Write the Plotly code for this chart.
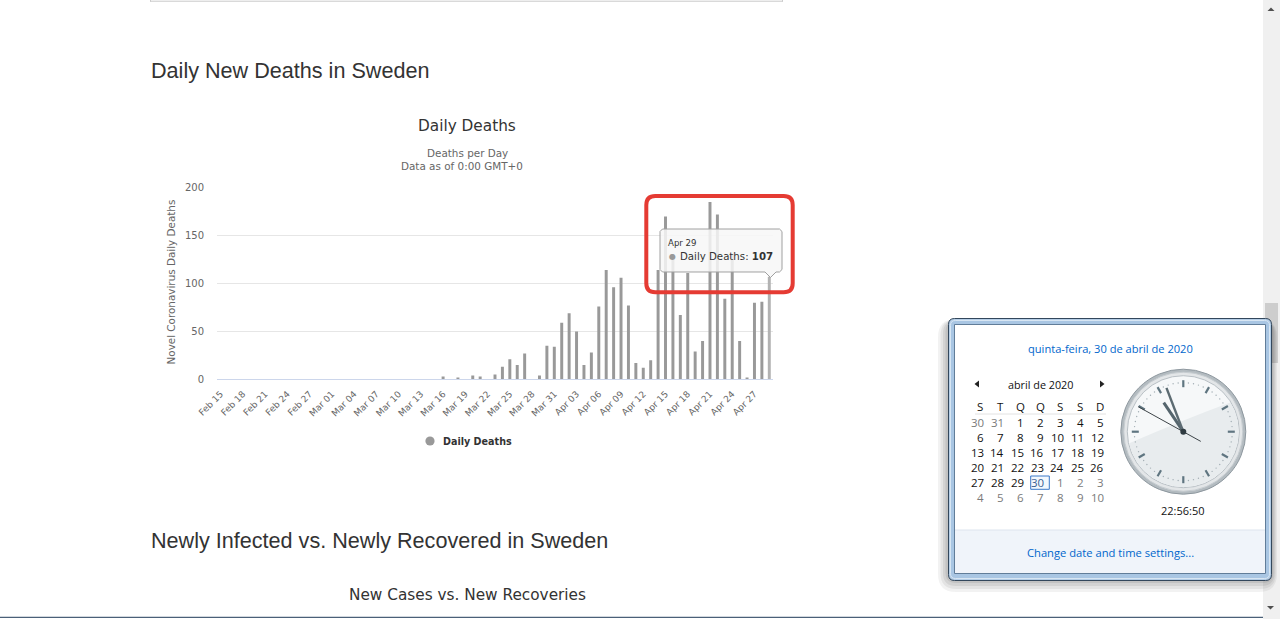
import math
import pandas as pd
import plotly.graph_objects as go

# ---------------- data ----------------
dates = [d.strftime("%b %d") for d in pd.date_range("2020-02-15", "2020-04-29", freq="D")]
daily_deaths = [
    0, 0, 0, 0, 0, 0, 0, 0, 0, 0,          # Feb 15 - Feb 24
    0, 0, 0, 0, 0, 0, 0, 0, 0, 0,          # Feb 25 - Mar 05
    0, 0, 0, 0, 0, 0, 0, 0, 0, 0,          # Mar 06 - Mar 15
    3, 0, 2, 0, 4, 3, 0, 5, 13, 21,        # Mar 16 - Mar 25
    15, 27, 0, 4, 35, 34,                  # Mar 26 - Mar 31
    59, 69, 50, 15, 28, 76, 114, 96, 106, 77,   # Apr 01 - Apr 10
    17, 12, 20, 114, 170, 130, 67, 111, 29, 40, # Apr 11 - Apr 20
    185, 172, 84, 131, 40, 2, 80, 81, 107       # Apr 21 - Apr 29
]
tick_labels = dates[::3]
y_ticks = [0, 50, 100, 150, 200]
hover_index = len(dates) - 1

# ---------------- helpers (pixel -> paper) ----------------
W, H = 1280, 619
def px(x): return x / W
def py(y): return 1 - y / H

def P(x, y): return f"{px(x):.6f},{py(y):.6f}"

def poly(points, closed=True):
    s = "M " + " L ".join(P(x, y) for x, y in points)
    return s + (" Z" if closed else "")

def rrect(x0, y0, x1, y1, r):
    return (f"M {P(x0 + r, y0)} L {P(x1 - r, y0)} Q {P(x1, y0)} {P(x1, y0 + r)} "
            f"L {P(x1, y1 - r)} Q {P(x1, y1)} {P(x1 - r, y1)} "
            f"L {P(x0 + r, y1)} Q {P(x0, y1)} {P(x0, y1 - r)} "
            f"L {P(x0, y0 + r)} Q {P(x0, y0)} {P(x0 + r, y0)} Z")

shapes = []
annots = []

def add_path(path, fill=None, color=None, width=0):
    d = dict(type="path", xref="paper", yref="paper", path=path,
             line=dict(color=color or "rgba(0,0,0,0)", width=width))
    if fill:
        d["fillcolor"] = fill
    shapes.append(d)

def add_rect(x0, y0, x1, y1, fill=None, color=None, width=0):
    d = dict(type="rect", xref="paper", yref="paper", x0=px(x0), x1=px(x1),
             y0=py(y1), y1=py(y0), line=dict(color=color or "rgba(0,0,0,0)", width=width))
    if fill:
        d["fillcolor"] = fill
    shapes.append(d)

def add_line(x0, y0, x1, y1, color, width=1):
    shapes.append(dict(type="line", xref="paper", yref="paper", x0=px(x0), y0=py(y0),
                       x1=px(x1), y1=py(y1), line=dict(color=color, width=width)))

def add_circle(cx, cy, r, fill=None, color=None, width=0):
    d = dict(type="circle", xref="paper", yref="paper", x0=px(cx - r), x1=px(cx + r),
             y0=py(cy + r), y1=py(cy - r), line=dict(color=color or "rgba(0,0,0,0)", width=width))
    if fill:
        d["fillcolor"] = fill
    shapes.append(d)

def text(x, y, s, size, color, family="DejaVu Sans", xanchor="center", yanchor="middle", angle=0):
    annots.append(dict(xref="paper", yref="paper", x=px(x), y=py(y), text=s, showarrow=False,
                       xanchor=xanchor, yanchor=yanchor, textangle=angle,
                       font=dict(size=size, color=color, family=family)))

# ---------------- chart ----------------
bar_colors = ["#999999"] * len(dates)
bar_colors[hover_index] = "#b2b2b2"

fig = go.Figure(go.Bar(x=dates, y=daily_deaths, marker=dict(color=bar_colors, line=dict(width=0)),
                       name="Daily Deaths", showlegend=False))

fig.update_layout(
    width=W, height=H, autosize=False,
    margin=dict(l=0, r=0, t=0, b=0, pad=0),
    paper_bgcolor="white", plot_bgcolor="white",
    bargap=0.6, showlegend=False,
    xaxis=dict(domain=[px(217), px(773)], type="category", range=[-0.5, len(dates) - 0.5],
               tickmode="array", tickvals=tick_labels, ticktext=tick_labels, tickangle=-45,
               tickfont=dict(family="DejaVu Sans", size=9, color="#666666"),
               showline=True, linecolor="#ccd6eb", linewidth=1, showgrid=False,
               ticks="outside", ticklen=5, tickcolor="rgba(0,0,0,0)", fixedrange=True,
               automargin=False),
    yaxis=dict(domain=[py(379.3), py(187.7)], range=[0, 200], tickvals=y_ticks,
               tickfont=dict(family="DejaVu Sans", size=10, color="#666666"),
               gridcolor="#e6e6e6", gridwidth=1, zeroline=False, showline=False,
               ticks="outside", ticklen=10, tickcolor="rgba(0,0,0,0)", fixedrange=True,
               automargin=False),
)

# top box remains
add_line(150.5, 0, 150.5, 1.5, "#cccccc", 1)
add_line(782.5, 0, 782.5, 1.5, "#cccccc", 1)
add_line(150, 1.2, 783, 1.2, "#c8c8c8", 1)

# headings
text(149, 71, "Daily New Deaths in Sweden", 21.6, "#333333", family="Liberation Sans", xanchor="left")
text(149, 540, "Newly Infected vs. Newly Recovered in Sweden", 21.6, "#333333", family="Liberation Sans", xanchor="left")
text(467, 595, "New Cases vs. New Recoveries", 15.3, "#333333")

# chart titles
text(467, 126, "Daily Deaths", 15.3, "#333333")
text(467, 153, "Deaths per Day", 10.4, "#666666")
text(462, 166, "Data as of 0:00 GMT+0", 10.4, "#666666")
text(170, 282.5, "Novel Coronavirus Daily Deaths", 10.4, "#666666", angle=-90)

# legend
add_circle(430, 441, 4.6, fill="#999999")
text(441, 441.5, "<b>Daily Deaths</b>", 9.6, "#333333", xanchor="left")

# tooltip
tt = [(662.5, 229), (779.5, 229), (782, 231.5), (782, 269.5), (779.5, 272), (776, 272),
      (770.5, 277.5), (765, 272), (662.5, 272), (660, 269.5), (660, 231.5)]
add_path(poly(tt), fill="rgba(247,247,247,0.85)", color="#a0a0a0", width=1)
text(666, 243, "Apr 29", 8.6, "#333333", xanchor="left")
text(667, 256.5, "●", 8, "#999999", xanchor="left")
text(678, 256, "Daily Deaths: <b>107</b>", 10.2, "#333333", xanchor="left")

# red highlight
add_path(rrect(646.3, 196, 792.7, 292.3, 9), color="#e53b33", width=4)

# ---------------- page scrollbar ----------------
add_rect(1263, 0, 1280, 619, fill="#f0f0f0")
add_rect(1265, 303, 1278, 363, fill="#cdcdcd")
add_path(poly([(1267.5, 11), (1274.5, 11), (1271, 7.5)]), fill="#505050")
add_path(poly([(1267, 606), (1274, 606), (1270.5, 609.5)]), fill="#505050")
add_line(0, 617.3, 1263, 617.3, "#4a6078", 1.3)

# ---------------- calendar popup ----------------
for i, a in enumerate([0.05, 0.06, 0.07, 0.08]):
    g = 10 - 2.5 * i
    add_path(rrect(948 - g, 322 - g * 0.3, 1272 + g * 0.5, 580 + g * 1.2, 8 + g), fill=f"rgba(0,0,0,{a})")
add_path(rrect(948.5, 318.5, 1271.5, 580.5, 6), fill="#b4cde6", color="#33475c", width=1)
add_path(rrect(950.5, 320.5, 1269.5, 578.5, 5), fill="#a9c6e3", color="#d8e6f3", width=1)
add_rect(954.5, 324.5, 1265.5, 573.5, fill="white", color="#617d99", width=1)
add_rect(955, 530, 1265, 573, fill="#f0f4fa")
add_line(955, 530, 1265, 530, "#dde4ee", 1)

link = "#0066cc"
ui = "Open Sans"
text(1110, 348, "quinta-feira, 30 de abril de 2020", 11.1, link, family=ui)
text(1040, 384, "abril de 2020", 10.8, "#111111", family=ui)
add_path(poly([(974.5, 384), (979, 380.5), (979, 387.5)]), fill="#222222")
add_path(poly([(1104.5, 384), (1100, 380.5), (1100, 387.5)]), fill="#222222")

week = ["S", "T", "Q", "Q", "S", "S", "D"]
for i, d in enumerate(week):
    text(980 + 20 * i, 406, d, 11.5, "#111111", family=ui)
add_line(975, 414, 1106, 414, "#e2e2e2", 1)

cal_rows = [
    [("30", 0), ("31", 0), ("1", 1), ("2", 1), ("3", 1), ("4", 1), ("5", 1)],
    [("6", 1), ("7", 1), ("8", 1), ("9", 1), ("10", 1), ("11", 1), ("12", 1)],
    [("13", 1), ("14", 1), ("15", 1), ("16", 1), ("17", 1), ("18", 1), ("19", 1)],
    [("20", 1), ("21", 1), ("22", 1), ("23", 1), ("24", 1), ("25", 1), ("26", 1)],
    [("27", 1), ("28", 1), ("29", 1), ("30", 2), ("1", 0), ("2", 0), ("3", 0)],
    [("4", 0), ("5", 0), ("6", 0), ("7", 0), ("8", 0), ("9", 0), ("10", 0)],
]
add_rect(1030.7, 476, 1049.3, 489.3, fill="#f3f8fd", color="#3a78c9", width=1)
for j, row in enumerate(cal_rows):
    for i, (s, kind) in enumerate(row):
        col = {0: "#7a7a7a", 1: "#111111", 2: "#3a5f92"}[kind]
        text(986 + 20 * i, 422.5 + 15 * j, s, 11.5, col, family=ui, xanchor="right")

# clock
cx, cy = 1183.3, 431.7
add_circle(cx, cy, 62.5, fill="#b3bbc0", color="#8e989f", width=1)
add_circle(cx, cy, 59.5, fill="#e3e6e8", color="#c7cdd1", width=1)
add_circle(cx, cy, 56, fill="#f6f8f9", color="#b9c0c5", width=1)
# gloss (lower-right, slightly darker)
r = 55.3
pts = []
for k in range(0, 41):
    phi = math.radians(192 + k * (200 / 40.0))
    pts.append((cx + r * math.cos(phi), cy - r * math.sin(phi)))
gl = "M " + " L ".join(P(x, y) for x, y in pts)
x0g, y0g = pts[0]
gl += f" Q {P(cx, cy - 12)} {P(x0g, y0g)} Z"
add_path(gl, fill="#e8ecee")
# minute dots and hour ticks
for m in range(60):
    th = math.radians(m * 6)
    if m % 5 == 0:
        add_line(cx + 44.5 * math.sin(th), cy - 44.5 * math.cos(th),
                 cx + 51.5 * math.sin(th), cy - 51.5 * math.cos(th), "#5f7580", 2.2)
    else:
        add_circle(cx + 49 * math.sin(th), cy - 49 * math.cos(th), 0.7, fill="#a3aeb4")
# hands
def hand(angle_deg, length, tail, color, width):
    th = math.radians(angle_deg)
    add_line(cx - tail * math.sin(th), cy + tail * math.cos(th),
             cx + length * math.sin(th), cy - length * math.cos(th), color, width)
hand(326, 35, 0, "#55656d", 3)
hand(339, 47, 0, "#5c6b72", 2.4)
hand(299, 51.5, 20, "#3d4448", 1)
add_circle(cx, cy, 3, fill="#2f3b41")

text(1182.5, 510, "22:56:50", 11, "#111111", family=ui)
text(1110, 552, "Change date and time settings...", 11.2, link, family=ui)

fig.update_layout(shapes=shapes, annotations=annots)

fig.write_html("out.html", config={"displayModeBar": False},
               post_script="document.body.style.margin='0px';")
